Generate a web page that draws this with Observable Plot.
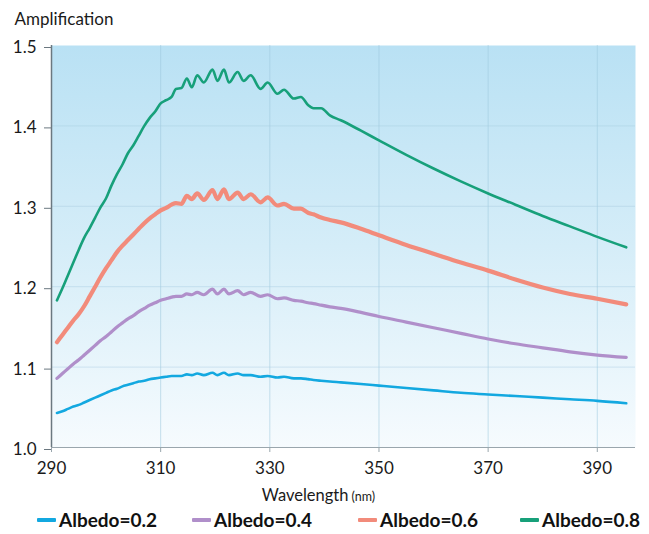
<!DOCTYPE html>
<html>
<head>
<meta charset="utf-8">
<script src="https://cdn.jsdelivr.net/npm/d3@7"></script>
<script src="https://cdn.jsdelivr.net/npm/@observablehq/plot@0.6"></script>
<style>
  html, body { margin: 0; padding: 0; background: #fff; }
  body { width: 649px; height: 534px; overflow: hidden; font-family: Lato, "Open Sans", sans-serif; }
  #legend { position: relative; height: 29px; }
  .item { position: absolute; top: 3px; display: flex; align-items: center; font-weight: bold; font-size: 19px; color: #111; }
  .sw { width: 19px; height: 4px; margin-right: 3px; border-radius: 1px; }
</style>
</head>
<body>
<div id="chart"></div>
<div id="legend"></div>
<script>
const wavelengths = [291,292,293,294,295,296,297,298,299,300,301,302,303,304,305,306,307,308,309,310,311,312,
  312.8,313.8,314.8,315.7,316.7,317.9,319.5,320.4,321.6,322.5,324.1,325.2,326.5,328.3,329.6,331.4,332.6,334.4,335.7,
  337,338,339.4,341,343,346.7,350,355,360,365,370,375,380,385,390,395.3];

const albedo02 = [1.043,1.045,1.048,1.051,1.053,1.056,1.059,1.062,1.065,1.068,1.071,1.073,1.076,1.078,1.080,1.082,1.083,1.085,1.086,1.087,1.088,1.089,
  1.089,1.089,1.091,1.090,1.092,1.090,1.093,1.090,1.093,1.090,1.092,1.090,1.090,1.088,1.089,1.087,1.088,1.086,1.086,
  1.085,1.084,1.083,1.082,1.081,1.079,1.077,1.074,1.071,1.068,1.066,1.064,1.062,1.060,1.058,1.055];

const albedo04 = [1.086,1.092,1.098,1.104,1.109,1.115,1.121,1.127,1.133,1.138,1.144,1.150,1.155,1.160,1.164,1.169,1.173,1.177,1.180,1.183,1.185,1.187,
  1.188,1.188,1.191,1.190,1.193,1.190,1.197,1.191,1.197,1.191,1.195,1.190,1.193,1.188,1.190,1.185,1.186,1.183,1.182,
  1.180,1.179,1.177,1.175,1.173,1.168,1.163,1.156,1.149,1.142,1.135,1.129,1.124,1.119,1.115,1.112];

const albedo06 = [1.131,1.140,1.149,1.158,1.166,1.176,1.188,1.200,1.212,1.223,1.233,1.243,1.251,1.258,1.265,1.272,1.279,1.285,1.290,1.295,1.298,1.302,
  1.304,1.303,1.313,1.309,1.316,1.308,1.320,1.309,1.321,1.309,1.317,1.309,1.315,1.305,1.311,1.301,1.303,1.297,1.297,
  1.292,1.290,1.286,1.283,1.280,1.272,1.264,1.252,1.241,1.230,1.220,1.209,1.199,1.191,1.185,1.178];

const albedo08 = [1.183,1.198,1.214,1.230,1.246,1.261,1.273,1.286,1.299,1.310,1.326,1.340,1.352,1.366,1.376,1.388,1.400,1.410,1.418,1.428,1.432,1.436,
  1.446,1.447,1.459,1.448,1.463,1.454,1.470,1.456,1.470,1.454,1.467,1.456,1.463,1.446,1.454,1.440,1.445,1.434,1.436,
  1.426,1.422,1.422,1.413,1.407,1.394,1.382,1.364,1.347,1.331,1.316,1.302,1.288,1.275,1.262,1.249];

const seriesNames = ["Albedo=0.2", "Albedo=0.4", "Albedo=0.6", "Albedo=0.8"];
const seriesValues = [albedo02, albedo04, albedo06, albedo08];
const xTicks = [290, 310, 330, 350, 370, 390];
const yTicks = [1.0, 1.1, 1.2, 1.3, 1.4, 1.5];

const colors = ["#13a8e0", "#b08fca", "#f28b7b", "#17a07a"];
const widths = [2.6, 3.2, 4.2, 2.6];

const rows = seriesNames.map((name, s) =>
  wavelengths.map((w, i) => ({ name, w, v: seriesValues[s][i] })));

const fontFam = "Lato, 'Open Sans', sans-serif";

const chart = Plot.plot({
  width: 649,
  height: 505,
  marginLeft: 51,
  marginRight: 14,
  marginTop: 45,
  marginBottom: 58,
  style: { fontFamily: fontFam, background: "transparent", overflow: "visible" },
  x: { domain: [290, 397] },
  y: { domain: [1.0, 1.5] },
  marks: [
    Plot.frame({ fill: "url(#bggrad)", stroke: null }),
    Plot.gridX(xTicks.slice(1), { stroke: "#9cc8dc", strokeOpacity: 0.55, strokeWidth: 1 }),
    Plot.gridY(yTicks.slice(1, -1), { stroke: "#a6cde0", strokeOpacity: 0.45, strokeWidth: 1 }),
    ...rows.map((r, s) => Plot.line(r, {
      x: "w", y: "v", stroke: colors[s], strokeWidth: widths[s], curve: "monotone-x",
      strokeLinecap: "round", strokeLinejoin: "round"
    })),
    Plot.ruleX([290], { stroke: "#6b7880", strokeWidth: 1.5 }),
    Plot.ruleY([1.0], { stroke: "#9aa6ad", strokeWidth: 1.2 }),
    Plot.axisY(yTicks, {
      tickFormat: d3.format(".1f"), tickSize: 7, tickPadding: 8, label: null,
      fontSize: 17, fill: "#1a1a1a", stroke: "#6b7880", dy: 2
    }),
    Plot.axisX(xTicks, {
      tickFormat: d => String(d), tickSize: 5, tickPadding: 9, label: null,
      fontSize: 17, fill: "#1a1a1a", stroke: "#9aa6ad"
    }),
    Plot.text(["Amplification"], {
      frameAnchor: "top-left", textAnchor: "start", lineAnchor: "middle",
      dx: -37, dy: -26, fontSize: 17, fill: "#1a1a1a"
    }),
    Plot.text(["Wavelength"], {
      frameAnchor: "bottom", textAnchor: "end", lineAnchor: "middle",
      dx: 5, dy: 48, fontSize: 16.5, fill: "#1a1a1a"
    }),
    Plot.text(["(nm)"], {
      frameAnchor: "bottom", textAnchor: "start", lineAnchor: "middle",
      dx: 8, dy: 49, fontSize: 12.5, fill: "#1a1a1a"
    })
  ]
});

d3.select(chart).insert("defs", ":first-child").html(
  '<linearGradient id="bggrad" x1="0" y1="0" x2="0" y2="1">' +
  '<stop offset="0" stop-color="#b9e1f4"/>' +
  '<stop offset="0.5" stop-color="#d5edf8"/>' +
  '<stop offset="1" stop-color="#f6fbfe"/>' +
  '</linearGradient>');

document.getElementById("chart").appendChild(chart);

const legendLeft = [37, 192, 358, 520];
const legend = document.getElementById("legend");
seriesNames.forEach((name, s) => {
  const item = document.createElement("div");
  item.className = "item";
  item.style.left = legendLeft[s] + "px";
  const sw = document.createElement("span");
  sw.className = "sw";
  sw.style.background = colors[s];
  const label = document.createElement("span");
  label.textContent = name;
  item.appendChild(sw);
  item.appendChild(label);
  legend.appendChild(item);
});
</script>
</body>
</html>
